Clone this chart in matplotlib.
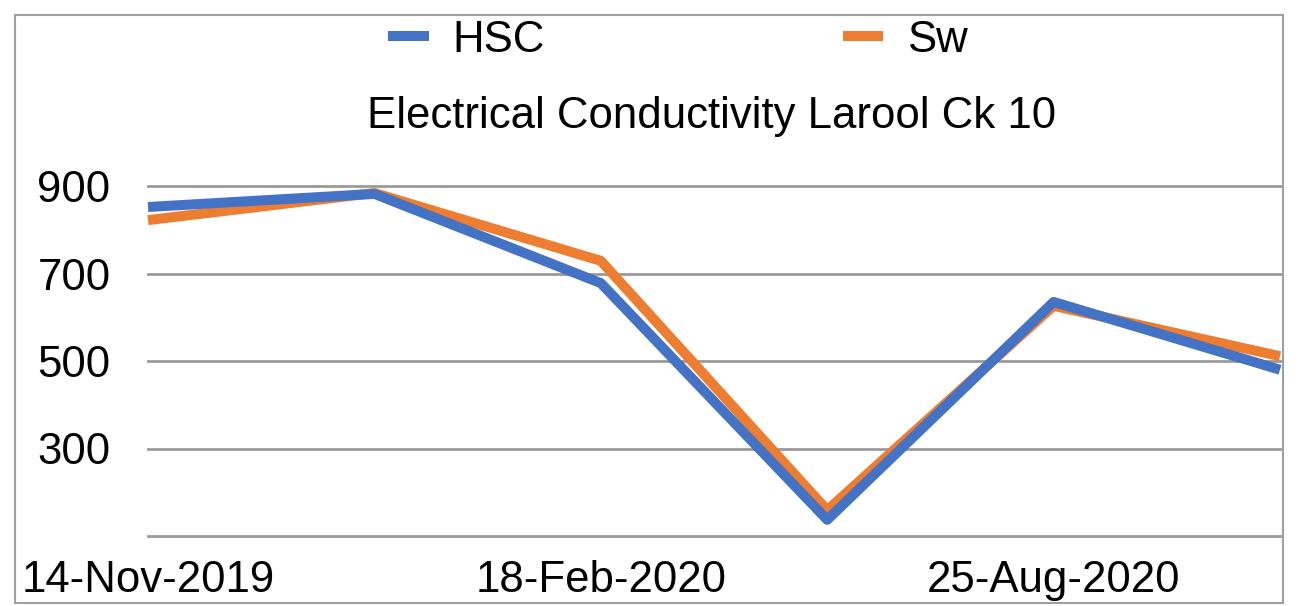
import matplotlib
matplotlib.use("Agg")
import matplotlib.pyplot as plt
from matplotlib.patches import Rectangle

# data
dates = ["14-Nov-2019", "", "18-Feb-2020", "", "25-Aug-2020", ""]
hsc = [852, 882, 678, 137, 635, 480]
sw = [822, 884, 729, 159, 626, 511]
y_ticks = [100, 300, 500, 700, 900]
y_labels = ["", "300", "500", "700", "900"]

plt.rcParams["font.family"] = ["Liberation Sans", "DejaVu Sans"]
fs = 31.5

fig = plt.figure(figsize=(12.99, 6.06), dpi=100)
ax = fig.add_axes([148 / 1299, 1 - 536 / 606, (1280 - 148) / 1299, (536 - 186) / 606])

x = list(range(len(dates)))
ax.plot(x, sw, color="#ED7D31", lw=7.2, label="Sw", solid_capstyle="butt", clip_on=False)
ax.plot(x, hsc, color="#4472C4", lw=7.2, label="HSC", solid_capstyle="butt", clip_on=False)

ax.set_xlim(0, len(dates) - 1)
ax.set_ylim(100, 900)
ax.set_yticks(y_ticks)
ax.set_yticklabels(y_labels)
ax.set_xticks([i for i, d in enumerate(dates) if d])
ax.set_xticklabels([d for d in dates if d])
ax.tick_params(axis="both", length=0, labelsize=fs)
ax.tick_params(axis="y", pad=27)
ax.tick_params(axis="x", pad=17)
for gl in ax.get_ygridlines():
    gl.set_clip_on(False)
ax.grid(axis="y", color="#9a9a9a", lw=2)
for gl in ax.get_ygridlines():
    gl.set_clip_on(False)
ax.set_axisbelow(True)
for s in ax.spines.values():
    s.set_visible(False)

handles, labels = ax.get_legend_handles_labels()
fig.legend(handles[::-1], labels[::-1], loc="center", bbox_to_anchor=(678 / 1299, 1 - 40 / 606),
           ncol=2, frameon=False, fontsize=fs, handlelength=0.92, handletextpad=0.55,
           columnspacing=6.8)

fig.text(712 / 1299, 1 - 117 / 606, "Electrical Conductivity Larool Ck 10",
         ha="center", va="center", fontsize=fs)

fig.patches.append(Rectangle((15 / 1299, 1 - 603 / 606), 1268 / 1299, 588 / 606,
                             transform=fig.transFigure, fill=False, ec="#a0a0a0", lw=1.5))

fig.savefig("out.png", dpi=100)
